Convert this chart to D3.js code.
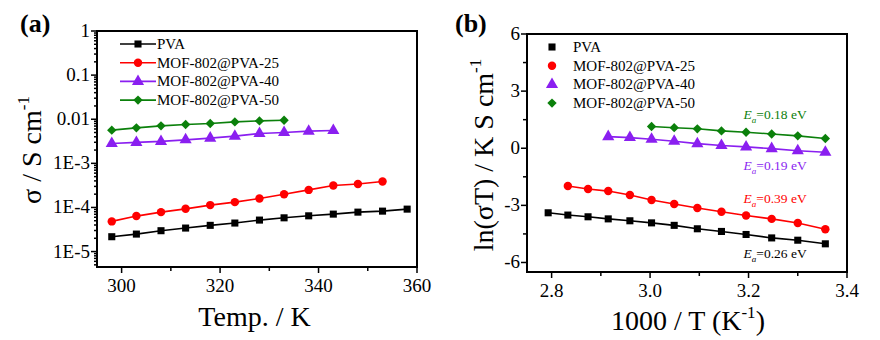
<!DOCTYPE html>
<html lang="en">
<head>
<meta charset="UTF-8">
<title>Conductivity of PVA and MOF-802@PVA films</title>
<script src="https://cdnjs.cloudflare.com/ajax/libs/d3/7.8.5/d3.min.js"></script>
<style>
    body { margin: 0; background: #fff; }
    svg { display: block; }
    text { font-family: "Liberation Serif", "Times New Roman", serif; }
    .frame { fill: none; stroke: #000; stroke-width: 2; }
    .tick-line { stroke: #000; stroke-width: 1.5; }
    .tick-label { font-size: 19px; fill: #000; }
    .axis-title { font-size: 28px; fill: #000; }
    .legend-text { font-size: 15px; fill: #000; }
    .ea { font-size: 13.5px; }
</style>
</head>
<body>
<div id="chart"></div>
<script>
// Series names and colours
const seriesNames = ["PVA", "MOF-802@PVA-25", "MOF-802@PVA-40", "MOF-802@PVA-50"];
const seriesColors = ["#000000", "#ff0000", "#8a1ff0", "#0b800b"];
const seriesSymbols = ["square", "circle", "triangle", "diamond"];

// (a) conductivity vs temperature
const tempPVA = [298, 303, 308, 313, 318, 323, 328, 333, 338, 343, 348, 353, 358];
const tempM25 = [298, 303, 308, 313, 318, 323, 328, 333, 338, 343, 348, 353];
const tempM40 = [298, 303, 308, 313, 318, 323, 328, 333, 338, 343];
const tempM50 = [298, 303, 308, 313, 318, 323, 328, 333];
const sigmaPVA = [2.17e-5, 2.49e-5, 2.97e-5, 3.41e-5, 3.93e-5, 4.43e-5, 5.17e-5, 5.82e-5, 6.46e-5, 7.06e-5, 7.83e-5, 8.25e-5, 9.16e-5];
const sigmaM25 = [4.83e-5, 6.37e-5, 7.83e-5, 9.3e-5, 1.13e-4, 1.32e-4, 1.6e-4, 2.0e-4, 2.5e-4, 3.14e-4, 3.41e-4, 3.86e-4];
const sigmaM40 = [2.82e-3, 2.98e-3, 3.14e-3, 3.41e-3, 3.73e-3, 4.13e-3, 4.75e-3, 5.01e-3, 5.36e-3, 5.55e-3];
const sigmaM50 = [5.65e-3, 6.37e-3, 7.07e-3, 7.59e-3, 7.99e-3, 8.69e-3, 9.16e-3, 9.49e-3];
const sigmaTicks = [1, 0.1, 0.01, 1e-3, 1e-4, 1e-5];
const sigmaTickLabels = ["1", "0.1", "0.01", "1E-3", "1E-4", "1E-5"];
const tempTicks = [300, 320, 340, 360];

// (b) Arrhenius plot
const invTPVA = [2.793, 2.833, 2.874, 2.915, 2.959, 3.003, 3.049, 3.096, 3.145, 3.195, 3.247, 3.300, 3.356];
const invTM25 = [2.833, 2.874, 2.915, 2.959, 3.003, 3.049, 3.096, 3.145, 3.195, 3.247, 3.300, 3.356];
const invTM40 = [2.915, 2.959, 3.003, 3.049, 3.096, 3.145, 3.195, 3.247, 3.300, 3.356];
const invTM50 = [3.003, 3.049, 3.096, 3.145, 3.195, 3.247, 3.300, 3.356];
const lnPVA = [-3.39, -3.51, -3.60, -3.71, -3.81, -3.92, -4.05, -4.23, -4.37, -4.53, -4.71, -4.83, -5.02];
const lnM25 = [-1.98, -2.14, -2.25, -2.46, -2.72, -2.93, -3.14, -3.34, -3.53, -3.71, -3.93, -4.25];
const lnM40 = [0.61, 0.56, 0.47, 0.37, 0.24, 0.14, 0.07, -0.02, -0.13, -0.21];
const lnM50 = [1.14, 1.08, 1.02, 0.91, 0.84, 0.75, 0.65, 0.51];
const invTTicks = [2.8, 3.0, 3.2, 3.4];
const lnTicks = [6, 3, 0, -3, -6];
const eaLabels = ["0.26 eV", "0.39 eV", "0.19 eV", "0.18 eV"];
const eaPos = [[3.19, -5.75], [3.19, -2.88], [3.19, -1.12], [3.19, 1.54]];

const width = 880, height = 340;
const svg = d3.select("#chart").append("svg")
    .attr("width", width).attr("height", height);

function symbolPath(kind) {
    if (kind === "square") return d3.symbol(d3.symbolSquare, 50)();
    if (kind === "circle") return d3.symbol(d3.symbolCircle, 56)();
    if (kind === "triangle") return d3.symbol(d3.symbolTriangle, 64)();
    return d3.symbol(d3.symbolSquare, 44)();
}
function drawMarker(g, kind, color, x, y) {
    g.append("path")
        .attr("d", symbolPath(kind))
        .attr("fill", color)
        .attr("transform", `translate(${x},${y})` + (kind === "diamond" ? " rotate(45)" : ""));
}

function frame(g, x, y) {
    const [x0, x1] = x.range(), [y0, y1] = y.range();
    g.append("rect").attr("class", "frame")
        .attr("x", x0).attr("y", y1).attr("width", x1 - x0).attr("height", y0 - y1);
}

// ---------- panel (a) ----------
const xA = d3.scaleLinear().domain([295, 360]).range([97, 417]);
const yA = d3.scaleLog().domain([Math.pow(10, -5.35), 1]).range([267, 31]);
const gA = svg.append("g");

// minor log ticks
const minorA = [];
for (let e = -6; e < 0; e++) {
    for (let k = 2; k <= 9; k++) {
        const v = k * Math.pow(10, e);
        if (v >= yA.domain()[0] && v <= 1) minorA.push(v);
    }
}
gA.selectAll(".minor-y").data(minorA).enter().append("line")
    .attr("class", "tick-line")
    .attr("x1", 97).attr("x2", 94)
    .attr("y1", d => yA(d)).attr("y2", d => yA(d));
gA.selectAll(".major-y").data(sigmaTicks).enter().append("line")
    .attr("class", "tick-line")
    .attr("x1", 97).attr("x2", 91)
    .attr("y1", d => yA(d)).attr("y2", d => yA(d));
gA.selectAll(".ylab").data(sigmaTicks).enter().append("text")
    .attr("class", "tick-label")
    .attr("x", 90).attr("y", d => yA(d) + 6)
    .attr("text-anchor", "end")
    .text((d, i) => sigmaTickLabels[i]);

gA.selectAll(".minor-x").data([310, 330, 350]).enter().append("line")
    .attr("class", "tick-line")
    .attr("x1", d => xA(d)).attr("x2", d => xA(d))
    .attr("y1", 267).attr("y2", 271);
gA.selectAll(".major-x").data(tempTicks).enter().append("line")
    .attr("class", "tick-line")
    .attr("x1", d => xA(d)).attr("x2", d => xA(d))
    .attr("y1", 267).attr("y2", 273);
gA.selectAll(".xlab").data(tempTicks).enter().append("text")
    .attr("class", "tick-label")
    .attr("x", d => xA(d)).attr("y", 292)
    .attr("text-anchor", "middle")
    .text(d => d);

const seriesA = [
    [tempPVA, sigmaPVA], [tempM25, sigmaM25], [tempM40, sigmaM40], [tempM50, sigmaM50]
];
seriesA.forEach(([xs, ys], s) => {
    const pts = xs.map((t, i) => [xA(t), yA(ys[i])]);
    gA.append("path")
        .attr("d", d3.line()(pts))
        .attr("fill", "none").attr("stroke", seriesColors[s]).attr("stroke-width", 1.6);
    pts.forEach(p => drawMarker(gA, seriesSymbols[s], seriesColors[s], p[0], p[1]));
});
frame(gA, xA, yA);

// legend (a)
seriesNames.forEach((name, i) => {
    const ly = 44 + i * 18.7;
    gA.append("line").attr("x1", 120).attr("x2", 156).attr("y1", ly).attr("y2", ly)
        .attr("stroke", seriesColors[i]).attr("stroke-width", 1.6);
    drawMarker(gA, seriesSymbols[i], seriesColors[i], 138, ly);
    gA.append("text").attr("class", "legend-text")
        .attr("x", 157).attr("y", ly + 5).text(name);
});

gA.append("text").attr("x", 20).attr("y", 32)
    .attr("font-size", 26).attr("font-weight", "bold").text("(a)");
gA.append("text").attr("class", "axis-title")
    .attr("x", xA(327)).attr("y", 326).attr("text-anchor", "middle")
    .text("Temp. / K");
const ytA = gA.append("text").attr("class", "axis-title")
    .attr("transform", "translate(41,150) rotate(-90)")
    .attr("text-anchor", "middle");
ytA.append("tspan").text("σ / S cm");
ytA.append("tspan").attr("font-size", 17).attr("dy", -12).text("-1");

// ---------- panel (b) ----------
const xB = d3.scaleLinear().domain([2.75, 3.4]).range([527, 847]);
const yB = d3.scaleLinear().domain([-6.5, 6]).range([272, 34]);
const gB = svg.append("g");

gB.selectAll(".minor-y").data([4.5, 1.5, -1.5, -4.5]).enter().append("line")
    .attr("class", "tick-line")
    .attr("x1", 527).attr("x2", 523)
    .attr("y1", d => yB(d)).attr("y2", d => yB(d));
gB.selectAll(".major-y").data(lnTicks).enter().append("line")
    .attr("class", "tick-line")
    .attr("x1", 527).attr("x2", 521)
    .attr("y1", d => yB(d)).attr("y2", d => yB(d));
gB.selectAll(".ylab").data(lnTicks).enter().append("text")
    .attr("class", "tick-label")
    .attr("x", 520).attr("y", d => yB(d) + 6)
    .attr("text-anchor", "end")
    .text(d => d);

gB.selectAll(".minor-x").data([2.9, 3.1, 3.3]).enter().append("line")
    .attr("class", "tick-line")
    .attr("x1", d => xB(d)).attr("x2", d => xB(d))
    .attr("y1", 272).attr("y2", 276);
gB.selectAll(".major-x").data(invTTicks).enter().append("line")
    .attr("class", "tick-line")
    .attr("x1", d => xB(d)).attr("x2", d => xB(d))
    .attr("y1", 272).attr("y2", 278);
gB.selectAll(".xlab").data(invTTicks).enter().append("text")
    .attr("class", "tick-label")
    .attr("x", d => xB(d)).attr("y", 297)
    .attr("text-anchor", "middle")
    .text(d => d.toFixed(1));

const seriesB = [
    [invTPVA, lnPVA], [invTM25, lnM25], [invTM40, lnM40], [invTM50, lnM50]
];
seriesB.forEach(([xs, ys], s) => {
    const pts = xs.map((v, i) => [xB(v), yB(ys[i])]);
    gB.append("path")
        .attr("d", d3.line()(pts))
        .attr("fill", "none").attr("stroke", seriesColors[s]).attr("stroke-width", 1.6);
    pts.forEach(p => drawMarker(gB, seriesSymbols[s], seriesColors[s], p[0], p[1]));
});
frame(gB, xB, yB);

// activation energy labels
eaLabels.forEach((lab, i) => {
    const t = gB.append("text").attr("class", "ea")
        .attr("x", xB(eaPos[i][0])).attr("y", yB(eaPos[i][1]))
        .attr("fill", seriesColors[i]);
    t.append("tspan").attr("font-style", "italic").text("E");
    t.append("tspan").attr("font-style", "italic").attr("font-size", 9).attr("dy", 4).text("a");
    t.append("tspan").attr("dy", -4).text("=" + lab);
});

// legend (b)
seriesNames.forEach((name, i) => {
    const ly = 47 + i * 18.7;
    drawMarker(gB, seriesSymbols[i], seriesColors[i], 552, ly);
    gB.append("text").attr("class", "legend-text")
        .attr("x", 573).attr("y", ly + 5).text(name);
});

gB.append("text").attr("x", 455).attr("y", 32)
    .attr("font-size", 26).attr("font-weight", "bold").text("(b)");
const xtB = gB.append("text").attr("class", "axis-title")
    .attr("x", 688).attr("y", 330).attr("text-anchor", "middle");
xtB.append("tspan").text("1000 / T (K");
xtB.append("tspan").attr("font-size", 17).attr("dy", -12).text("-1");
xtB.append("tspan").attr("dy", 12).text(")");
const ytB = gB.append("text").attr("class", "axis-title")
    .attr("transform", "translate(493,155) rotate(-90)")
    .attr("text-anchor", "middle");
ytB.append("tspan").text("ln(σT) / K S cm");
ytB.append("tspan").attr("font-size", 17).attr("dy", -12).text("-1");
</script>
</body>
</html>
